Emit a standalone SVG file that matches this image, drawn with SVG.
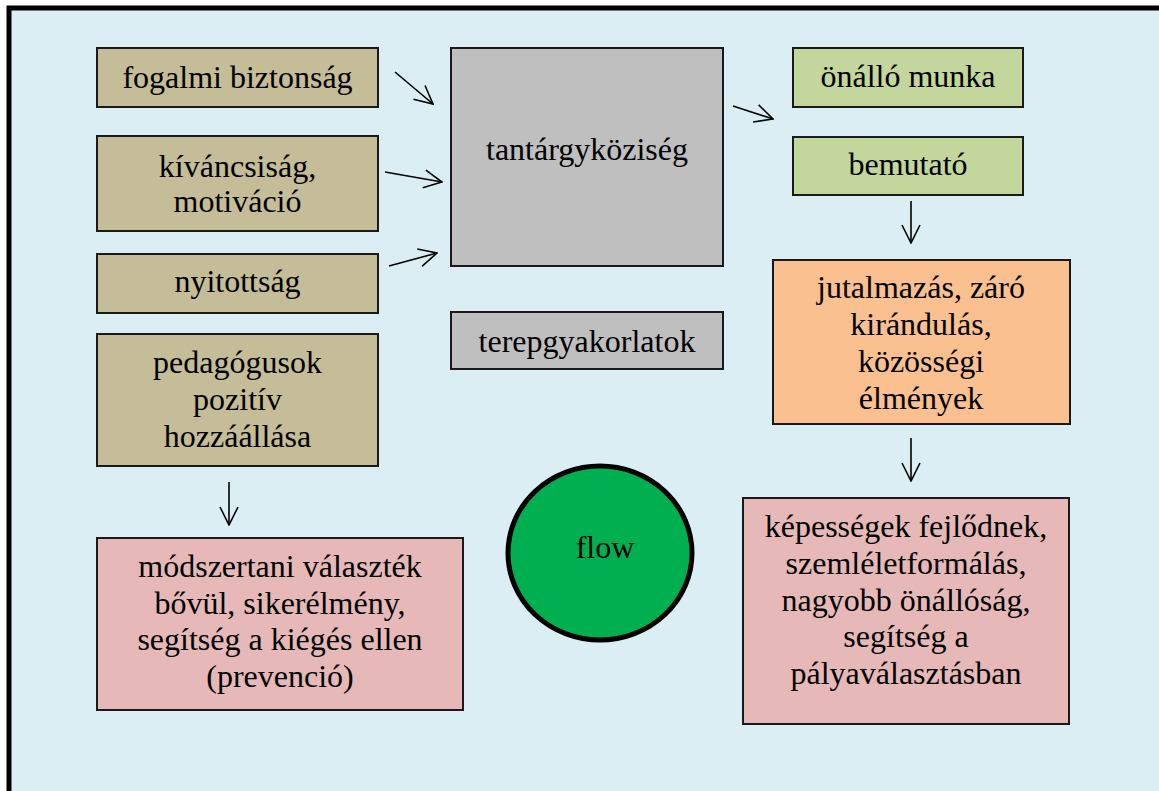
<svg xmlns="http://www.w3.org/2000/svg" width="1159" height="791" viewBox="0 0 1159 791">
<style>
.bx{stroke:#1a1a1a;stroke-width:2}
.kh{fill:#C4BD97}.gr{fill:#BFBFBF}.gn{fill:#C3D69B}.or{fill:#FAC090}.pk{fill:#E6B9B8}
text{font-family:"Liberation Serif","Times New Roman",serif;font-size:32px;fill:#000;text-anchor:middle}
.cn{stroke:#000;stroke-width:1.6;fill:none}
</style>
<defs>
<marker id="ah" markerUnits="userSpaceOnUse" viewBox="0 0 20 20" markerWidth="20" markerHeight="20" refX="19" refY="10" orient="auto">
<path d="M1,1 L19,10 L1,19" fill="none" stroke="#000" stroke-width="1.6"/>
</marker>
</defs>
<rect x="0" y="0" width="1159" height="791" fill="#fff"/>
<rect id="frame" x="9" y="8" width="1170" height="800" fill="#DBEEF4" stroke="#000" stroke-width="5"/>
<g id="n-fogalmi"><rect class="bx kh" x="97" y="48" width="281" height="59"/><text x="237.5" y="88">fogalmi biztonság</text></g>
<g id="n-kivancsisag"><rect class="bx kh" x="97" y="136" width="281" height="95"/><text x="237.5" y="177">kíváncsiság,</text><text x="237.5" y="212">motiváció</text></g>
<g id="n-nyitottsag"><rect class="bx kh" x="97" y="254" width="281" height="59"/><text x="237.5" y="292">nyitottság</text></g>
<g id="n-pedagogusok"><rect class="bx kh" x="97" y="334" width="281" height="132"/><text x="237.5" y="373">pedagógusok</text><text x="237.5" y="410">pozitív</text><text x="237.5" y="447">hozzáállása</text></g>
<g id="n-modszertani"><rect class="bx pk" x="97" y="538" width="366" height="172"/><text x="280" y="577">módszertani választék</text><text x="280" y="614">bővül, sikerélmény,</text><text x="280" y="650">segítség a kiégés ellen</text><text x="280" y="687">(prevenció)</text></g>
<g id="n-tantargy"><rect class="bx gr" x="451" y="48" width="272" height="218"/><text x="587" y="160">tantárgyköziség</text></g>
<g id="n-terep"><rect class="bx gr" x="451" y="312" width="272" height="57"/><text x="587" y="352">terepgyakorlatok</text></g>
<g id="n-onallo"><rect class="bx gn" x="793" y="48" width="230" height="59"/><text x="908" y="87">önálló munka</text></g>
<g id="n-bemutato"><rect class="bx gn" x="793" y="137" width="230" height="58"/><text x="908" y="175">bemutató</text></g>
<g id="n-jutalmazas"><rect class="bx or" x="773" y="260" width="297" height="164"/><text x="921" y="298">jutalmazás, záró</text><text x="921" y="335">kirándulás,</text><text x="921" y="372">közösségi</text><text x="921" y="409">élmények</text></g>
<g id="n-kepessegek"><rect class="bx pk" x="743" y="498" width="326" height="226"/><text x="906" y="537">képességek fejlődnek,</text><text x="906" y="574">szemléletformálás,</text><text x="906" y="611">nagyobb önállóság,</text><text x="906" y="647">segítség a</text><text x="906" y="684">pályaválasztásban</text></g>
<g id="n-flow"><ellipse cx="600" cy="553" rx="92" ry="87" fill="#00B050" stroke="#000" stroke-width="5"/><text x="605" y="558">flow</text></g>
<g id="connectors">
<line class="cn" x1="395" y1="72" x2="433" y2="104" marker-end="url(#ah)"/>
<line class="cn" x1="385" y1="172" x2="442" y2="182" marker-end="url(#ah)"/>
<line class="cn" x1="389" y1="266" x2="437" y2="253" marker-end="url(#ah)"/>
<line class="cn" x1="733" y1="106" x2="773" y2="119" marker-end="url(#ah)"/>
<line class="cn" x1="911" y1="201" x2="911" y2="243" marker-end="url(#ah)"/>
<line class="cn" x1="911" y1="438" x2="911" y2="481" marker-end="url(#ah)"/>
<line class="cn" x1="229" y1="482" x2="229" y2="525" marker-end="url(#ah)"/>
</g>
</svg>
